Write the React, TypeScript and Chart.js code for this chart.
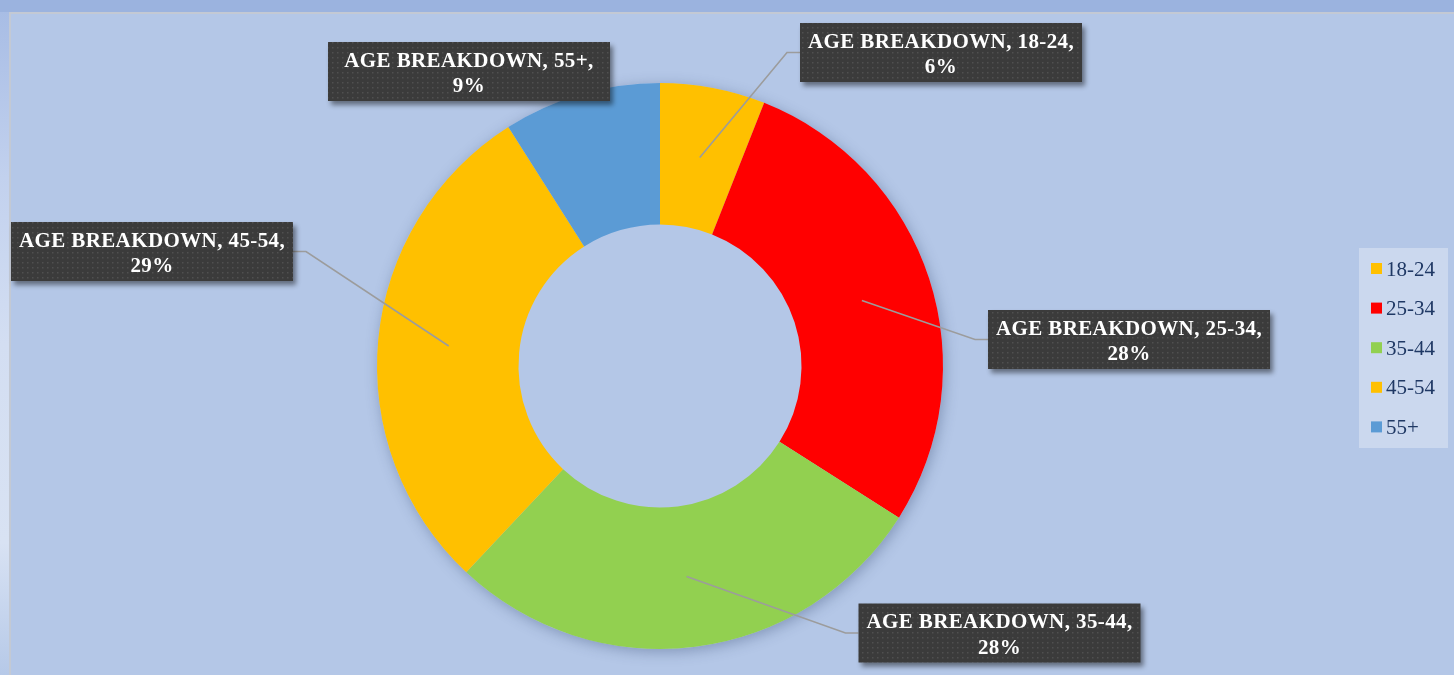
import React, { useEffect, useRef } from "react";
import { Chart, registerables } from "chart.js";

Chart.register(...registerables);

const seriesName = "AGE BREAKDOWN";
const categories = ["18-24", "25-34", "35-44", "45-54", "55+"];
const shares = [6, 28, 28, 29, 9];
const sliceColors = ["#FFC000", "#FF0000", "#92D050", "#FFC000", "#5B9BD5"];

// label box placement (centre offset from doughnut centre, px) and whether a leader line is drawn
const labelOffsets = [
  { dx: 281, dy: -313.5, leader: true },
  { dx: 469, dy: -26.5, leader: true },
  { dx: 339.5, dy: 267, leader: true },
  { dx: -508, dy: -114.5, leader: true },
  { dx: -191, dy: -294.5, leader: false },
];

const BOX_W = 282;
const BOX_H = 59;

function makePattern(ctx: CanvasRenderingContext2D) {
  const c = document.createElement("canvas");
  c.width = 5;
  c.height = 5;
  const p = c.getContext("2d")!;
  p.fillStyle = "#3b3b3b";
  p.fillRect(0, 0, 5, 5);
  p.fillStyle = "#505050";
  p.fillRect(2, 2, 1.5, 1.5);
  return ctx.createPattern(c, "repeat");
}

const shadowPlugin = {
  id: "ringShadow",
  beforeDatasetsDraw(chart: any) {
    const meta = chart.getDatasetMeta(0);
    const arc = meta.data[0];
    if (!arc) return;
    const { x, y, outerRadius } = arc.getProps(["x", "y", "outerRadius"], true);
    const ctx = chart.ctx;
    ctx.save();
    ctx.shadowColor = "rgba(40,60,100,0.35)";
    ctx.shadowBlur = 14;
    ctx.shadowOffsetX = 2;
    ctx.shadowOffsetY = 3;
    ctx.fillStyle = "#b4c7e7";
    ctx.beginPath();
    ctx.arc(x, y, outerRadius, 0, Math.PI * 2);
    ctx.fill();
    ctx.restore();
  },
};

const labelPlugin = {
  id: "calloutLabels",
  afterDatasetsDraw(chart: any) {
    const ctx: CanvasRenderingContext2D = chart.ctx;
    const meta = chart.getDatasetMeta(0);
    const pattern = makePattern(ctx);
    const labels: string[] = chart.data.labels;
    const values: number[] = chart.data.datasets[0].data;
    const total = values.reduce((a, b) => a + b, 0);
    meta.data.forEach((arc: any, i: number) => {
      const { x, y } = arc.getProps(["x", "y"], true);
      const c = arc.getCenterPoint();
      const off = labelOffsets[i];
      const bx = x + off.dx - BOX_W / 2;
      const by = y + off.dy - BOX_H / 2;
      const cy = by + BOX_H / 2;
      // leader line
      if (off.leader) {
        const right = off.dx > 0;
        const edge = right ? bx : bx + BOX_W;
        const elbow = right ? edge - 13 : edge + 13;
        ctx.save();
        ctx.strokeStyle = "#9c9c9c";
        ctx.lineWidth = 1.6;
        ctx.beginPath();
        ctx.moveTo(c.x, c.y);
        ctx.lineTo(elbow, cy);
        ctx.lineTo(edge, cy);
        ctx.stroke();
        ctx.restore();
      }
      // box
      ctx.save();
      ctx.shadowColor = "rgba(0,0,0,0.45)";
      ctx.shadowBlur = 5;
      ctx.shadowOffsetX = 3;
      ctx.shadowOffsetY = 4;
      ctx.fillStyle = pattern || "#3b3b3b";
      ctx.fillRect(bx, by, BOX_W, BOX_H);
      ctx.restore();
      // text
      ctx.save();
      ctx.fillStyle = "#ffffff";
      ctx.font = "bold 21px 'Liberation Serif', 'Times New Roman', serif";
      (ctx as any).letterSpacing = "0.4px";
      ctx.textAlign = "center";
      ctx.textBaseline = "alphabetic";
      const pct = Math.round((values[i] / total) * 100) + "%";
      ctx.fillText(`${seriesName}, ${labels[i]},`, bx + BOX_W / 2, by + 24.5);
      ctx.fillText(pct, bx + BOX_W / 2, by + 50);
      ctx.restore();
    });
  },
};

const legendPlugin = {
  id: "sideLegend",
  afterDraw(chart: any) {
    const ctx: CanvasRenderingContext2D = chart.ctx;
    const labels: string[] = chart.data.labels;
    const colors: string[] = chart.data.datasets[0].backgroundColor;
    const lx = 1359;
    const ly = 248;
    const lw = 89;
    const rowH = 39.6;
    const lh = 200;
    ctx.save();
    ctx.fillStyle = "#cbd8ee";
    ctx.fillRect(lx, ly, lw, lh);
    ctx.font = "21px 'Liberation Serif', 'Times New Roman', serif";
    ctx.textBaseline = "alphabetic";
    ctx.textAlign = "left";
    labels.forEach((l, i) => {
      const yc = ly + 20.5 + i * rowH;
      ctx.fillStyle = colors[i];
      ctx.fillRect(lx + 12, yc - 5.5, 11, 11);
      ctx.fillStyle = "#1f3864";
      ctx.fillText(l, lx + 27, yc + 7);
    });
    ctx.restore();
  },
};

export default function App() {
  const ref = useRef<HTMLCanvasElement | null>(null);
  useEffect(() => {
    if (!ref.current) return;
    const chart = new Chart(ref.current, {
      type: "doughnut",
      data: {
        labels: categories,
        datasets: [
          {
            label: seriesName,
            data: shares,
            backgroundColor: sliceColors,
            borderWidth: 0,
          },
        ],
      },
      options: {
        responsive: false,
        maintainAspectRatio: false,
        animation: false,
        cutout: "50%",
        layout: { padding: { left: 377, right: 511, top: 83, bottom: 26 } },
        plugins: {
          legend: { display: false },
          tooltip: { enabled: false },
        },
      },
      plugins: [shadowPlugin, labelPlugin, legendPlugin],
    } as any);
    return () => chart.destroy();
  }, []);

  return (
    <div
      style={{
        position: "fixed",
        left: 0,
        top: 0,
        width: 1454,
        height: 675,
        background: "#9bb3df",
        overflow: "hidden",
      }}
    >
      <div
        style={{
          position: "absolute",
          left: 0,
          top: 12,
          width: 9,
          height: 663,
          background:
            "linear-gradient(to bottom, #a8bde5 0%, #c2d1ee 25%, #d3def2 50%, #d8e2f3 80%, #b6c9e8 100%)",
        }}
      />
      <div
        style={{
          position: "absolute",
          left: 9,
          top: 12,
          width: 1445,
          height: 663,
          background: "#b4c7e7",
          borderLeft: "2px solid #c3c9d4",
          borderTop: "2px solid #c3c9d4",
          boxSizing: "border-box",
        }}
      />
      <canvas
        ref={ref}
        width={1454}
        height={675}
        style={{ position: "absolute", left: 0, top: 0, width: 1454, height: 675 }}
      />
    </div>
  );
}
